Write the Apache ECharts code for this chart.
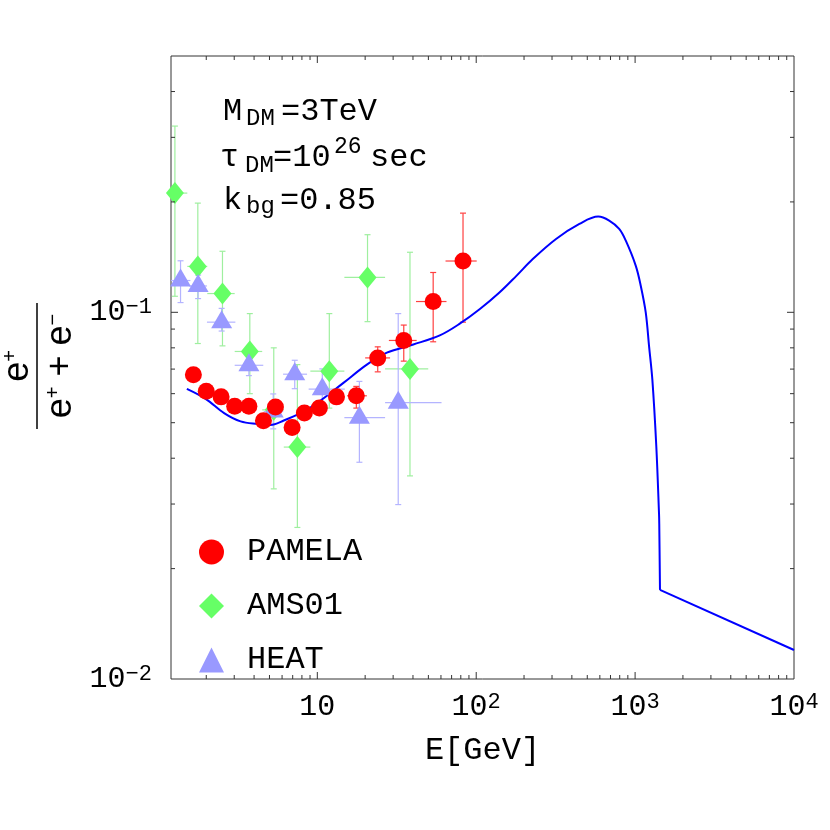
<!DOCTYPE html>
<html>
<head>
<meta charset="utf-8">
<script src="https://cdn.jsdelivr.net/npm/echarts@6/dist/echarts.min.js"></script>
<style>
  html, body { margin: 0; padding: 0; background: #fff; }
  #chart { width: 830px; height: 830px; }
</style>
</head>
<body>
<div id="chart"></div>
<script>
// axis range
const xMin = 1.2, xMax = 10000;
const yMin = 0.01, yMax = 0.5;

// model curve (M_DM = 3 TeV); the last segment is a straight background tail
const curveE = [1.51, 1.99, 2.59, 3.29, 4.19, 5.07, 6.15, 7.82, 10.0, 14.6, 20.5, 27.4, 40.2, 59.0, 78.8,
    105, 140, 179, 227, 318, 446, 586, 687, 794, 874, 1010, 1086, 1167, 1224, 1284, 1360, 1414, 1419, 1434, 10000];
const curveR = [0.0618, 0.0580, 0.0531, 0.0504, 0.0496, 0.0493, 0.0507, 0.0531, 0.0566, 0.0642, 0.0720, 0.0776, 0.0817, 0.0865, 0.0931,
    0.1019, 0.1132, 0.1257, 0.1397, 0.1585, 0.1742, 0.1824, 0.1779, 0.1688, 0.1568, 0.1339, 0.1180, 0.0998, 0.0809, 0.0655, 0.0430, 0.0283, 0.0265, 0.0175, 0.0120];

// PAMELA
const pamE = [1.66, 2.00, 2.48, 3.02, 3.71, 4.58, 5.45, 6.94, 8.29, 10.3, 13.2, 17.6, 24.0, 35.0, 53.6, 82.6];
const pamR = [0.0676, 0.0609, 0.0588, 0.0554, 0.0554, 0.0506, 0.0552, 0.0485, 0.0531, 0.0548, 0.0588, 0.0592, 0.0751, 0.0838, 0.107, 0.138];
const pamRlo = [0.0662, 0.0597, 0.0577, 0.0543, 0.0543, 0.0495, 0.0539, 0.0472, 0.0516, 0.0530, 0.0566, 0.0548, 0.0688, 0.0736, 0.0831, 0.094];
const pamRhi = [0.0690, 0.0621, 0.0599, 0.0565, 0.0565, 0.0517, 0.0565, 0.0498, 0.0546, 0.0566, 0.0610, 0.0628, 0.0805, 0.0923, 0.1284, 0.1864];
const pamElo = [1.55, 1.85, 2.30, 2.80, 3.45, 4.25, 5.05, 6.45, 7.70, 9.55, 12.2, 15.4, 20.0, 28.2, 41.8, 64.1];
const pamEhi = [1.78, 2.15, 2.66, 3.25, 3.98, 4.92, 5.85, 7.45, 8.90, 11.1, 14.2, 20.5, 28.7, 42.2, 65.0, 100.7];

// AMS01
const amsE = [1.27, 1.77, 2.53, 3.76, 5.32, 7.49, 11.9, 20.7, 38.3];
const amsR = [0.2114, 0.1334, 0.1125, 0.0782, 0.0542, 0.0429, 0.0691, 0.1245, 0.0701];
const amsRlo = [0.1106, 0.0822, 0.081, 0.060, 0.033, 0.0259, 0.0548, 0.0943, 0.0358];
const amsRhi = [0.322, 0.1985, 0.1467, 0.0992, 0.080, 0.072, 0.0992, 0.1628, 0.1458];
const amsElo = [1.1, 1.52, 2.03, 3.02, 4.5, 6.15, 9.04, 14.8, 26.7];
const amsEhi = [1.52, 2.03, 3.02, 4.5, 6.15, 9.04, 14.8, 26.7, 49.9];

// HEAT
const heatE = [1.378, 1.777, 2.50, 3.71, 5.28, 7.21, 10.75, 18.4, 32.3];
const heatR = [0.1221, 0.118, 0.0940, 0.0717, 0.0536, 0.0678, 0.0617, 0.0516, 0.0567];
const heatRlo = [0.1063, 0.109, 0.0889, 0.0672, 0.0481, 0.0619, 0.0548, 0.039, 0.0299];
const heatRhi = [0.1382, 0.1263, 0.1025, 0.0776, 0.0599, 0.0740, 0.0701, 0.0648, 0.0992];
const heatElo = [1.2, 1.56, 2.02, 3.02, 4.6, 6.09, 8.82, 14.8, 26.7];
const heatEhi = [1.59, 2.02, 3.05, 4.57, 6.1, 8.62, 14.9, 26.7, 60.5];

// frame ticks
const xMajorTicks = [10, 100, 1000];
const xMinorTicks = [2, 3, 4, 5, 6, 7, 8, 9, 20, 30, 40, 50, 60, 70, 80, 90,
    200, 300, 400, 500, 600, 700, 800, 900, 2000, 3000, 4000, 5000, 6000, 7000, 8000, 9000];
const yMajorTicks = [0.1];
const yMinorTicks = [0.02, 0.03, 0.04, 0.05, 0.06, 0.07, 0.08, 0.09, 0.2, 0.3, 0.4];

const mono = '"Liberation Mono", "DejaVu Sans Mono", monospace';
const sans = '"Liberation Sans", Arial, sans-serif';

function powLabel(v) {
    const l = Math.log10(v);
    const e = Math.round(l);
    if (Math.abs(l - e) > 1e-6) return '';
    if (e === 1) return '10';
    return '10{sup|' + (e < 0 ? '\u2212' + (-e) : e) + '}';
}

function errSeries(E, R, Elo, Ehi, Rlo, Rhi, color, width) {
    const data = E.map(function (e, i) { return [e, R[i], Elo[i], Ehi[i], Rlo[i], Rhi[i]]; });
    return {
        type: 'custom',
        silent: true,
        clip: true,
        z: 1,
        data: data,
        encode: { x: 0, y: 1 },
        renderItem: function (params, api) {
            const c = api.coord([api.value(0), api.value(1)]);
            const lo = api.coord([api.value(0), api.value(4)]);
            const hi = api.coord([api.value(0), api.value(5)]);
            const l = api.coord([api.value(2), api.value(1)]);
            const r = api.coord([api.value(3), api.value(1)]);
            const st = { stroke: color, lineWidth: width };
            return {
                type: 'group',
                children: [
                    { type: 'line', shape: { x1: c[0], y1: lo[1], x2: c[0], y2: hi[1] }, style: st },
                    { type: 'line', shape: { x1: c[0] - 3, y1: lo[1], x2: c[0] + 3, y2: lo[1] }, style: st },
                    { type: 'line', shape: { x1: c[0] - 3, y1: hi[1], x2: c[0] + 3, y2: hi[1] }, style: st },
                    { type: 'line', shape: { x1: l[0], y1: c[1], x2: r[0], y2: c[1] }, style: st }
                ]
            };
        }
    };
}

function tickSeries(data, isX) {
    return {
        type: 'custom',
        silent: true,
        clip: false,
        z: 5,
        data: data,
        encode: { x: 0, y: 1 },
        renderItem: function (params, api) {
            const len = api.value(2) ? 7 : 4;
            const st = { stroke: '#333', lineWidth: 1 };
            if (isX) {
                const b = api.coord([api.value(0), yMin]);
                const t = api.coord([api.value(0), yMax]);
                return { type: 'group', children: [
                    { type: 'line', shape: { x1: b[0], y1: b[1], x2: b[0], y2: b[1] - len }, style: st },
                    { type: 'line', shape: { x1: t[0], y1: t[1], x2: t[0], y2: t[1] + len }, style: st }
                ] };
            }
            const lp = api.coord([xMin, api.value(1)]);
            const rp = api.coord([xMax, api.value(1)]);
            return { type: 'group', children: [
                { type: 'line', shape: { x1: lp[0], y1: lp[1], x2: lp[0] + len, y2: lp[1] }, style: st },
                { type: 'line', shape: { x1: rp[0], y1: rp[1], x2: rp[0] - len, y2: rp[1] }, style: st }
            ] };
        }
    };
}

const xTickData = xMajorTicks.map(function (v) { return [v, yMin, 1]; })
    .concat(xMinorTicks.map(function (v) { return [v, yMin, 0]; }));
const yTickData = yMajorTicks.map(function (v) { return [xMin, v, 1]; })
    .concat(yMinorTicks.map(function (v) { return [xMin, v, 0]; }));

function zip(a, b) { return a.map(function (v, i) { return [v, b[i]]; }); }

const curveData = zip(curveE, curveR);
const curveMain = curveData.slice(0, curveData.length - 1);
const curveTail = curveData.slice(curveData.length - 2);

function txt(x, y, s, size) {
    return { type: 'text', x: x, y: y, style: { text: s, font: size + 'px ' + mono, fill: '#000', align: 'left', verticalAlign: 'middle' } };
}

const chart = echarts.init(document.getElementById('chart'));

const option = {
    animation: false,
    backgroundColor: '#fff',
    grid: { left: 171, right: 36, top: 56, bottom: 151, show: true, borderColor: '#333', borderWidth: 1 },
    xAxis: {
        type: 'log', logBase: 10, min: xMin, max: xMax,
        axisLine: { show: false }, axisTick: { show: false }, splitLine: { show: false },
        axisLabel: {
            formatter: powLabel, margin: 12, color: '#000', fontFamily: mono, fontSize: 30, lineHeight: 32,
            rich: { sup: { fontFamily: mono, fontSize: 22, lineHeight: 16, verticalAlign: 'top', color: '#000' } }
        },
        name: 'E[GeV]', nameLocation: 'middle', nameGap: 56,
        nameTextStyle: { fontFamily: mono, fontSize: 32, color: '#000' }
    },
    yAxis: {
        type: 'log', logBase: 10, min: yMin, max: yMax,
        axisLine: { show: false }, axisTick: { show: false }, splitLine: { show: false },
        axisLabel: {
            formatter: powLabel, margin: 19, color: '#000', fontFamily: mono, fontSize: 30, lineHeight: 32,
            rich: { sup: { fontFamily: mono, fontSize: 22, lineHeight: 16, verticalAlign: 'top', color: '#000' } }
        }
    },
    legend: {
        data: ['PAMELA', 'AMS01', 'HEAT'],
        orient: 'vertical', left: 194, top: 531,
        itemWidth: 25, itemHeight: 25, itemGap: 22,
        textStyle: { fontFamily: mono, fontSize: 32, color: '#000', lineHeight: 25, padding: [0, 0, 0, 18] }
    },
    graphic: [
        // y axis title: e+ / (e+ + e-)
        {
            type: 'group', x: 37, y: 366, rotation: Math.PI / 2,
            children: [
                { type: 'line', shape: { x1: -63, y1: 0, x2: 63, y2: 0 }, style: { stroke: '#000', lineWidth: 1.5 } },
                { type: 'text', x: 0, y: -19, style: {
                    text: '{e|e}{s|+}', align: 'center', verticalAlign: 'middle',
                    rich: { e: { font: '36px ' + sans, lineHeight: 36 }, s: { font: '20px ' + sans, lineHeight: 18, verticalAlign: 'top' } }
                } },
                { type: 'text', x: 0, y: 24, style: {
                    text: '{e|e}{s|+}{e| + e}{s|\u2212}', align: 'center', verticalAlign: 'middle',
                    rich: { e: { font: '36px ' + sans, lineHeight: 36 }, s: { font: '20px ' + sans, lineHeight: 18, verticalAlign: 'top' } }
                } }
            ]
        },
        // parameter box
        txt(223, 112, 'M', 32), txt(246, 119, 'DM', 24), txt(281, 112, '=3TeV', 32),
        txt(220, 158, '\u03c4', 32), txt(245, 166, 'DM', 24), txt(273, 158, '=10', 32), txt(334, 147, '26', 23), txt(370, 158, 'sec', 32),
        txt(223, 201, 'k', 32), txt(246, 207, 'bg', 24), txt(280, 201, '=0.85', 32)
    ],
    series: [
        tickSeries(xTickData, true),
        tickSeries(yTickData, false),
        errSeries(amsE, amsR, amsElo, amsEhi, amsRlo, amsRhi, '#9fef9f', 1.2),
        errSeries(heatE, heatR, heatElo, heatEhi, heatRlo, heatRhi, '#b4b4ff', 1.2),
        errSeries(pamE, pamR, pamElo, pamEhi, pamRlo, pamRhi, '#ff4040', 1.2),
        {
            type: 'line', data: curveMain, showSymbol: false, silent: true, z: 2,
            smooth: 0.35,
            lineStyle: { color: '#0000ff', width: 2 }
        },
        {
            type: 'line', data: curveTail, showSymbol: false, silent: true, z: 2,
            smooth: false,
            lineStyle: { color: '#0000ff', width: 2 }
        },
        {
            name: 'AMS01', type: 'scatter', data: zip(amsE, amsR), z: 3,
            symbol: 'diamond', symbolSize: [18, 22], itemStyle: { color: '#66ff66', opacity: 1 }
        },
        {
            name: 'HEAT', type: 'scatter', data: zip(heatE, heatR), z: 4,
            symbol: 'triangle', symbolSize: [21, 18], symbolOffset: [0, -3], itemStyle: { color: '#9999ff', opacity: 1 }
        },
        {
            name: 'PAMELA', type: 'scatter', data: zip(pamE, pamR), z: 5,
            symbol: 'circle', symbolSize: 17, itemStyle: { color: '#ff0000', opacity: 1 }
        }
    ]
};

chart.setOption(option);

window.addEventListener('resize', function () {
    chart.resize();
});
</script>
</body>
</html>
